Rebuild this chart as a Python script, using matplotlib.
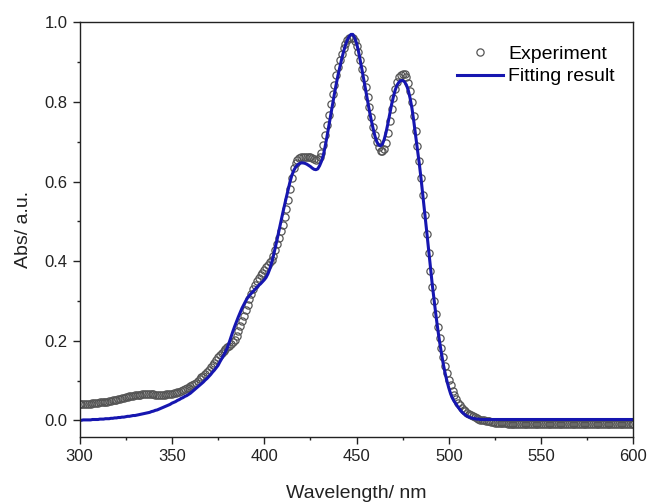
import matplotlib

matplotlib.use("Agg")
import matplotlib.pyplot as plt
import numpy as np
from matplotlib.ticker import MultipleLocator

plt.rcParams["font.family"] = ["Liberation Sans", "DejaVu Sans"]

# Measured absorbance, one point per nm from 300 to 600 nm.
WL_START, WL_STEP = 300, 1
abs_experiment = [
    0.040, 0.040, 0.041, 0.041, 0.042, 0.042, 0.042, 0.043, 0.043, 0.044,  # 300
    0.044, 0.045, 0.045, 0.046, 0.046, 0.047, 0.048, 0.049, 0.050, 0.051,  # 310
    0.052, 0.053, 0.054, 0.055, 0.057, 0.058, 0.059, 0.060, 0.061, 0.062,  # 320
    0.063, 0.063, 0.064, 0.064, 0.065, 0.065, 0.065, 0.065, 0.065, 0.065,  # 330
    0.065, 0.064, 0.064, 0.064, 0.064, 0.064, 0.064, 0.065, 0.065, 0.066,  # 340
    0.067, 0.068, 0.069, 0.071, 0.072, 0.074, 0.076, 0.078, 0.080, 0.082,  # 350
    0.085, 0.088, 0.091, 0.095, 0.099, 0.103, 0.108, 0.112, 0.117, 0.122,  # 360
    0.127, 0.133, 0.139, 0.145, 0.152, 0.158, 0.164, 0.169, 0.174, 0.179,  # 370
    0.183, 0.187, 0.191, 0.196, 0.203, 0.213, 0.224, 0.236, 0.249, 0.263,  # 380
    0.277, 0.291, 0.305, 0.318, 0.330, 0.340, 0.349, 0.357, 0.364, 0.371,  # 390
    0.378, 0.385, 0.391, 0.397, 0.404, 0.414, 0.427, 0.442, 0.458, 0.475,  # 400
    0.492, 0.511, 0.532, 0.555, 0.582, 0.610, 0.633, 0.647, 0.655, 0.659,  # 410
    0.661, 0.662, 0.663, 0.663, 0.663, 0.662, 0.660, 0.657, 0.655, 0.656,  # 420
    0.661, 0.673, 0.692, 0.716, 0.742, 0.768, 0.794, 0.819, 0.844, 0.867,  # 430
    0.888, 0.906, 0.922, 0.936, 0.947, 0.955, 0.960, 0.962, 0.960, 0.953,  # 440
    0.942, 0.926, 0.906, 0.884, 0.861, 0.837, 0.812, 0.787, 0.762, 0.738,  # 450
    0.717, 0.699, 0.686, 0.678, 0.676, 0.682, 0.698, 0.722, 0.752, 0.783,  # 460
    0.811, 0.834, 0.851, 0.862, 0.869, 0.871, 0.870, 0.862, 0.848, 0.827,  # 470
    0.800, 0.765, 0.726, 0.690, 0.652, 0.610, 0.567, 0.517, 0.468, 0.420,  # 480
    0.375, 0.335, 0.299, 0.266, 0.235, 0.207, 0.182, 0.158, 0.137, 0.118,  # 490
    0.102, 0.088, 0.074, 0.063, 0.053, 0.044, 0.038, 0.032, 0.027, 0.023,  # 500
    0.019, 0.016, 0.013, 0.010, 0.008, 0.006, 0.004, 0.002, 0.001, 0.000,  # 510
    -0.001, -0.002, -0.003, -0.004, -0.005, -0.006, -0.006, -0.007, -0.007, -0.008,  # 520
    -0.008, -0.008, -0.009, -0.009, -0.009, -0.009, -0.009, -0.009, -0.009, -0.009,  # 530
    -0.009, -0.009, -0.009, -0.010, -0.009, -0.009, -0.010, -0.009, -0.009, -0.010,  # 540
    -0.010, -0.009, -0.010, -0.010, -0.009, -0.010, -0.010, -0.010, -0.009, -0.010,  # 550
    -0.010, -0.010, -0.010, -0.009, -0.010, -0.010, -0.010, -0.010, -0.010, -0.009,  # 560
    -0.010, -0.010, -0.010, -0.010, -0.010, -0.009, -0.010, -0.010, -0.010, -0.010,  # 570
    -0.010, -0.010, -0.009, -0.010, -0.010, -0.010, -0.010, -0.010, -0.010, -0.010,  # 580
    -0.010, -0.010, -0.010, -0.010, -0.009, -0.010, -0.010, -0.010, -0.010, -0.010,  # 590
    -0.010,  # 600
]

# Fitted spectrum on the same wavelength grid.
abs_fit = [
    0.000, 0.000, 0.001, 0.001, 0.001, 0.001, 0.001, 0.002, 0.002, 0.002,  # 300
    0.002, 0.003, 0.003, 0.003, 0.004, 0.004, 0.004, 0.005, 0.005, 0.006,  # 310
    0.006, 0.007, 0.007, 0.008, 0.008, 0.009, 0.010, 0.010, 0.011, 0.012,  # 320
    0.012, 0.013, 0.014, 0.015, 0.016, 0.017, 0.018, 0.019, 0.020, 0.022,  # 330
    0.023, 0.025, 0.026, 0.028, 0.030, 0.032, 0.034, 0.036, 0.038, 0.040,  # 340
    0.043, 0.045, 0.047, 0.050, 0.052, 0.055, 0.057, 0.060, 0.062, 0.065,  # 350
    0.068, 0.072, 0.076, 0.080, 0.084, 0.088, 0.092, 0.096, 0.101, 0.105,  # 360
    0.110, 0.115, 0.121, 0.126, 0.132, 0.138, 0.147, 0.155, 0.163, 0.172,  # 370
    0.182, 0.195, 0.209, 0.223, 0.236, 0.248, 0.260, 0.271, 0.282, 0.291,  # 380
    0.300, 0.308, 0.314, 0.319, 0.324, 0.329, 0.334, 0.339, 0.343, 0.348,  # 390
    0.353, 0.359, 0.368, 0.380, 0.396, 0.414, 0.434, 0.455, 0.477, 0.499,  # 400
    0.520, 0.541, 0.561, 0.581, 0.600, 0.616, 0.628, 0.636, 0.642, 0.645,  # 410
    0.647, 0.647, 0.646, 0.644, 0.641, 0.638, 0.634, 0.631, 0.630, 0.632,  # 420
    0.640, 0.651, 0.666, 0.688, 0.713, 0.740, 0.767, 0.794, 0.820, 0.845,  # 430
    0.868, 0.889, 0.909, 0.927, 0.943, 0.956, 0.965, 0.970, 0.970, 0.962,  # 440
    0.948, 0.929, 0.905, 0.880, 0.854, 0.828, 0.802, 0.777, 0.754, 0.733,  # 450
    0.714, 0.700, 0.692, 0.690, 0.694, 0.706, 0.724, 0.746, 0.770, 0.794,  # 460
    0.814, 0.831, 0.843, 0.850, 0.854, 0.854, 0.851, 0.843, 0.830, 0.810,  # 470
    0.785, 0.752, 0.715, 0.680, 0.645, 0.605, 0.562, 0.520, 0.475, 0.430,  # 480
    0.385, 0.342, 0.302, 0.264, 0.229, 0.197, 0.168, 0.141, 0.118, 0.098,  # 490
    0.081, 0.066, 0.055, 0.047, 0.040, 0.033, 0.027, 0.021, 0.017, 0.013,  # 500
    0.010, 0.008, 0.006, 0.005, 0.004, 0.003, 0.003, 0.002, 0.002, 0.002,  # 510
    0.002, 0.002, 0.002, 0.002, 0.002, 0.002, 0.002, 0.002, 0.002, 0.002,  # 520
    0.002, 0.002, 0.002, 0.002, 0.002, 0.002, 0.002, 0.002, 0.002, 0.002,  # 530
    0.002, 0.002, 0.002, 0.002, 0.002, 0.002, 0.002, 0.002, 0.002, 0.002,  # 540
    0.002, 0.002, 0.002, 0.002, 0.002, 0.002, 0.002, 0.002, 0.002, 0.002,  # 550
    0.002, 0.002, 0.002, 0.002, 0.002, 0.002, 0.002, 0.002, 0.002, 0.002,  # 560
    0.002, 0.002, 0.002, 0.002, 0.002, 0.002, 0.002, 0.002, 0.002, 0.002,  # 570
    0.002, 0.002, 0.002, 0.002, 0.002, 0.002, 0.002, 0.002, 0.002, 0.002,  # 580
    0.002, 0.002, 0.002, 0.002, 0.002, 0.002, 0.002, 0.002, 0.002, 0.002,  # 590
    0.002,  # 600
]

wavelength = WL_START + WL_STEP * np.arange(len(abs_experiment))

fig = plt.figure(figsize=(6.49, 5.03), dpi=100)
ax = fig.add_axes([0.1226, 0.1312, 0.8535, 0.8241])

ax.plot(wavelength, abs_experiment, "o", mfc="none", mec="#555555", mew=0.9, ms=5.2,
        label="Experiment")
ax.plot(wavelength, abs_fit, "-", color="#1616b0", lw=2.2, label="Fitting result")

ax.set_xlim(300, 600)
ax.set_ylim(-0.042, 1.0)
ax.xaxis.set_major_locator(MultipleLocator(50))
ax.xaxis.set_minor_locator(MultipleLocator(25))
ax.yaxis.set_major_locator(MultipleLocator(0.2))
ax.yaxis.set_minor_locator(MultipleLocator(0.1))
ax.tick_params(which="both", direction="out", top=False, right=False,
               labelsize=12, colors="#222222", width=1.0)
ax.tick_params(which="major", length=5)
ax.tick_params(which="minor", length=2.5)
for s in ax.spines.values():
    s.set_linewidth(1.0)
    s.set_color("#222222")

ax.set_xlabel("Wavelength/ nm", fontsize=14, labelpad=15, color="#222222")
ax.set_ylabel("Abs/ a.u.", fontsize=14, labelpad=9, color="#222222")

ax.legend(loc="upper left", bbox_to_anchor=(0.681, 0.945), frameon=False, fontsize=14,
          borderpad=0, borderaxespad=0, handlelength=2.4, handletextpad=0.25,
          labelspacing=0.25)

fig.savefig("out.png", dpi=100)
